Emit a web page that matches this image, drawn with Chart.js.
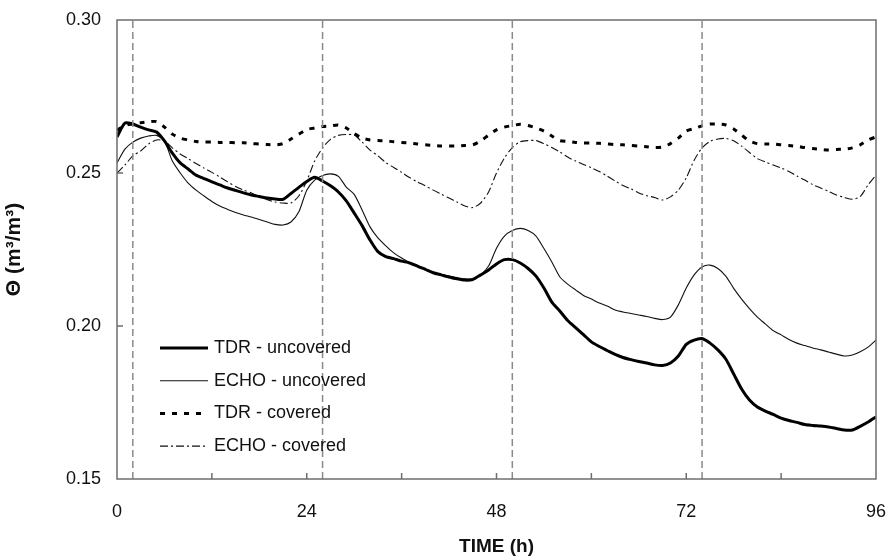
<!DOCTYPE html>
<html>
<head>
<meta charset="utf-8">
<script src="https://cdn.jsdelivr.net/npm/chart.js@4.4.1/dist/chart.umd.min.js"></script>
<style>
  html, body { margin: 0; padding: 0; background: #fff; }
  #wrap { width: 887px; height: 558px; }
</style>
</head>
<body>
<div id="wrap"><canvas id="chart_1"></canvas></div>
<script>
// hours since start
const hours = [0,1,2,3,4,5,6,7,8,9,10,11,12,13,14,15,16,17,18,19,20,21,22,23,24,
  25,26,27,28,29,30,31,32,33,34,35,36,37,38,39,40,41,42,43,44,45,46,47,48,
  49,50,51,52,53,54,55,56,57,58,59,60,61,62,63,64,65,66,67,68,69,70,71,72,
  73,74,75,76,77,78,79,80,81,82,83,84,85,86,87,88,89,90,91,92,93,94,95,96];

const tdrUncovered = [0.2618,0.2663,0.2660,0.2650,0.2641,0.2634,0.2605,0.2565,0.2533,0.2513,
  0.2493,0.2482,0.2471,0.2461,0.2451,0.2443,0.2435,0.2428,0.2423,0.2418,
  0.2415,0.2414,0.2433,0.2453,0.2472,0.2486,0.2474,0.2458,0.2438,0.2409,
  0.2369,0.2328,0.2281,0.2243,0.2227,0.2220,0.2212,0.2206,0.2196,0.2185,
  0.2174,0.2167,0.2160,0.2154,0.2150,0.2152,0.2167,0.2183,0.2203,0.2217,
  0.2217,0.2206,0.2188,0.2163,0.2124,0.2078,0.2049,0.2018,0.1995,0.1972,
  0.1948,0.1933,0.1920,0.1907,0.1897,0.1890,0.1884,0.1879,0.1873,0.1871,
  0.1879,0.1902,0.1940,0.1954,0.1959,0.1944,0.1922,0.1892,0.1843,0.1794,
  0.1758,0.1735,0.1722,0.1711,0.1699,0.1691,0.1685,0.1678,0.1675,0.1673,
  0.1670,0.1665,0.1660,0.1660,0.1672,0.1686,0.1703];

const echoUncovered = [0.2533,0.2578,0.2601,0.2614,0.2621,0.2623,0.2605,0.2539,0.2500,0.2467,
  0.2444,0.2425,0.2407,0.2392,0.2381,0.2371,0.2363,0.2356,0.2348,0.2340,
  0.2332,0.2330,0.2340,0.2373,0.2444,0.2477,0.2492,0.2497,0.2489,0.2454,
  0.2430,0.2379,0.2324,0.2288,0.2262,0.2239,0.2222,0.2208,0.2194,0.2185,
  0.2174,0.2168,0.2163,0.2158,0.2154,0.2154,0.2167,0.2196,0.2254,0.2294,
  0.2312,0.2319,0.2312,0.2294,0.2253,0.2209,0.2161,0.2137,0.2118,0.2100,
  0.2088,0.2075,0.2065,0.2052,0.2046,0.2041,0.2036,0.2031,0.2025,0.2021,
  0.2029,0.2069,0.2124,0.2167,0.2193,0.2199,0.2188,0.2163,0.2123,0.2088,
  0.2057,0.2029,0.2007,0.1985,0.1971,0.1956,0.1944,0.1936,0.1928,0.1922,
  0.1915,0.1908,0.1902,0.1905,0.1916,0.1931,0.1954];

const tdrCovered = [0.2640,0.2655,0.2660,0.2664,0.2667,0.2668,0.2650,0.2627,0.2614,0.2608,
  0.2603,0.2601,0.2601,0.2600,0.2600,0.2599,0.2599,0.2596,0.2595,0.2593,
  0.2592,0.2596,0.2611,0.2627,0.2642,0.2647,0.2652,0.2654,0.2657,0.2647,
  0.2629,0.2614,0.2608,0.2606,0.2605,0.2602,0.2600,0.2598,0.2595,0.2592,
  0.2590,0.2588,0.2588,0.2588,0.2590,0.2592,0.2605,0.2624,0.2641,0.2650,
  0.2655,0.2659,0.2655,0.2647,0.2637,0.2621,0.2606,0.2603,0.2600,0.2598,
  0.2598,0.2597,0.2595,0.2593,0.2592,0.2590,0.2588,0.2586,0.2583,0.2585,
  0.2596,0.2614,0.2637,0.2645,0.2654,0.2660,0.2660,0.2657,0.2644,0.2624,
  0.2605,0.2596,0.2595,0.2595,0.2592,0.2590,0.2587,0.2583,0.2580,0.2577,
  0.2575,0.2577,0.2578,0.2582,0.2592,0.2608,0.2618];

const echoCovered = [0.2500,0.2526,0.2556,0.2572,0.2595,0.2608,0.2605,0.2582,0.2562,0.2547,
  0.2531,0.2516,0.2502,0.2487,0.2471,0.2456,0.2444,0.2435,0.2423,0.2413,
  0.2405,0.2402,0.2402,0.2425,0.2474,0.2539,0.2582,0.2610,0.2623,0.2626,
  0.2624,0.2601,0.2575,0.2556,0.2534,0.2518,0.2502,0.2485,0.2471,0.2458,
  0.2444,0.2431,0.2418,0.2405,0.2392,0.2387,0.2402,0.2438,0.2500,0.2549,
  0.2583,0.2602,0.2606,0.2606,0.2596,0.2583,0.2569,0.2552,0.2539,0.2528,
  0.2517,0.2505,0.2490,0.2474,0.2459,0.2448,0.2435,0.2426,0.2420,0.2412,
  0.2422,0.2444,0.2484,0.2542,0.2582,0.2603,0.2611,0.2613,0.2605,0.2588,
  0.2567,0.2547,0.2536,0.2526,0.2516,0.2505,0.2490,0.2477,0.2462,0.2451,
  0.2440,0.2428,0.2420,0.2414,0.2423,0.2461,0.2493];

// times of the dashed vertical markers
const eventHours = [2, 26, 50, 74];

const xTicks = [0, 24, 48, 72, 96];
const yTicks = [0.15, 0.20, 0.25, 0.30];

const FONT = 'Arial, "Liberation Sans", sans-serif';

function toPoints(vals) {
    return vals.map((v, i) => ({ x: hours[i], y: v }));
}

const series = [
    { label: 'TDR - uncovered', data: tdrUncovered, width: 3, dash: [], color: '#000' },
    { label: 'ECHO - uncovered', data: echoUncovered, width: 1.1, dash: [], color: '#111' },
    { label: 'TDR - covered', data: tdrCovered, width: 3, dash: [5, 7], color: '#000' },
    { label: 'ECHO - covered', data: echoCovered, width: 1.1, dash: [8, 3, 2, 3], color: '#111' }
];

const datasets = [];
eventHours.forEach(h => {
    datasets.push({
        label: 'event',
        data: [{ x: h, y: 0.15 }, { x: h, y: 0.30 }],
        borderColor: '#8a8a8a',
        borderWidth: 1.5,
        borderDash: [7, 4],
        pointRadius: 0
    });
});
series.forEach(s => {
    datasets.push({
        label: s.label,
        data: toPoints(s.data),
        borderColor: s.color,
        borderWidth: s.width,
        borderDash: s.dash,
        pointRadius: 0,
        tension: 0.25
    });
});

// no extra room for overhanging tick labels
function noPad(scale) {
    scale.paddingLeft = 0;
    scale.paddingRight = 0;
    scale.paddingTop = 0;
    scale.paddingBottom = 0;
}

// frame, inward ticks and legend
const framePlugin = {
    id: 'frame',
    afterDatasetsDraw(chart) {
        const ctx = chart.ctx;
        const a = chart.chartArea;
        const xs = chart.scales.x, ys = chart.scales.y;
        ctx.save();
        ctx.strokeStyle = '#6e6e6e';
        ctx.lineWidth = 1.5;
        ctx.setLineDash([]);
        ctx.strokeRect(a.left, a.top, a.right - a.left, a.bottom - a.top);
        ctx.beginPath();
        for (let h = 12; h < 96; h += 12) {
            const px = xs.getPixelForValue(h);
            ctx.moveTo(px, a.bottom);
            ctx.lineTo(px, a.bottom - 6);
        }
        yTicks.slice(1, -1).forEach(v => {
            const py = ys.getPixelForValue(v);
            ctx.moveTo(a.left, py);
            ctx.lineTo(a.left + 6, py);
        });
        ctx.stroke();

        // legend
        ctx.font = '18px ' + FONT;
        ctx.textBaseline = 'middle';
        ctx.fillStyle = '#111';
        series.forEach((s, i) => {
            const y = a.top + 328 + i * 32.7;
            ctx.beginPath();
            ctx.strokeStyle = s.color;
            ctx.lineWidth = s.width;
            ctx.setLineDash(s.dash);
            ctx.moveTo(a.left + 43, y);
            ctx.lineTo(a.left + 91, y);
            ctx.stroke();
            ctx.fillText(s.label, a.left + 97, y);
        });
        ctx.restore();
    }
};

new Chart(document.getElementById('chart_1'), {
    type: 'line',
    data: { datasets: datasets },
    options: {
        responsive: true,
        maintainAspectRatio: false,
        animation: false,
        layout: { padding: { top: 20, right: 11, left: 0, bottom: 0 } },
        plugins: {
            legend: { display: false },
            tooltip: { enabled: false }
        },
        scales: {
            x: {
                type: 'linear',
                min: 0,
                max: 96,
                afterBuildTicks(scale) { scale.ticks = xTicks.map(v => ({ value: v })); },
                afterFit(scale) { scale.height = 79; noPad(scale); },
                grid: { display: false, drawTicks: false },
                border: { display: false },
                ticks: { color: '#111', padding: 22, font: { size: 18, family: FONT } },
                title: {
                    display: true,
                    text: 'TIME (h)',
                    color: '#111',
                    font: { size: 19, weight: 'bold', family: FONT },
                    padding: { top: 6, bottom: 0 }
                }
            },
            y: {
                min: 0.15,
                max: 0.30,
                afterBuildTicks(scale) { scale.ticks = yTicks.map(v => ({ value: v })); },
                afterFit(scale) { scale.width = 117; noPad(scale); },
                grid: { display: false, drawTicks: false },
                border: { display: false },
                ticks: {
                    color: '#111',
                    padding: 16,
                    font: { size: 18, family: FONT },
                    callback: v => v.toFixed(2)
                },
                title: {
                    display: true,
                    text: 'Θ (m³/m³)',
                    color: '#111',
                    font: { size: 21, weight: 'bold', family: FONT },
                    padding: { top: 2, bottom: 0 }
                }
            }
        }
    },
    plugins: [framePlugin]
});
</script>
</body>
</html>
